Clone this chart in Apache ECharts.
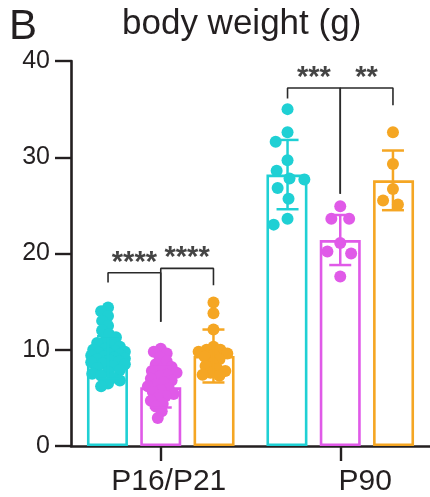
<!DOCTYPE html>
<html><head><meta charset="utf-8">
<script src="https://cdn.jsdelivr.net/npm/echarts@6/dist/echarts.min.js"></script>
<style>html,body{margin:0;padding:0;background:#fff}#c{width:430px;height:497px}</style>
</head><body><div id="c"></div>
<script>
// ---------- data ----------
const categories = ['P16/P21', 'P90'];
const yTicks = [0, 10, 20, 30, 40];

const meanCyan = [9.2, 28.2];
const sdCyan = [2.2, 3.6];
const meanMagenta = [6.1, 21.4];
const sdMagenta = [2.1, 2.6];
const meanOrange = [9.35, 27.6];
const sdOrange = [2.75, 3.1];

const ptsCyanP16 = [14.4, 14.0, 13.5, 13.0, 12.5, 12.0, 11.6, 11.3, 10.9, 10.7, 10.5, 10.3, 10.1, 10.0,
  9.9, 9.8, 9.7, 9.6, 9.5, 9.4, 9.3, 9.2, 9.1, 9.0, 8.9, 8.8, 8.7, 8.6, 8.5, 8.3, 8.1,
  7.9, 7.7, 7.5, 7.3, 7.1, 6.8, 6.5, 6.2];
const ptsCyanP90 = [35.0, 32.6, 31.6, 29.7, 28.6, 27.8, 27.7, 26.8, 25.7, 23.6, 23.0];
const ptsMagentaP16 = [10.1, 9.8, 9.6, 9.2, 8.8, 8.5, 8.2, 8.0, 7.8, 7.6, 7.4, 7.2, 7.0, 6.8, 6.6,
  6.4, 6.2, 6.0, 5.8, 5.6, 5.4, 5.2, 5.0, 4.7, 4.4, 4.1, 3.6, 2.9];
const ptsMagentaP90 = [24.9, 23.6, 23.6, 21.1, 20.2, 20.0, 17.6];
const ptsOrangeP16 = [14.9, 13.8, 12.1, 10.3, 10.0, 10.0, 9.8, 9.6, 9.5, 9.3, 9.0, 8.6, 8.3, 8.0, 7.8, 7.6, 7.4, 7.3];
const ptsOrangeP90 = [32.6, 29.3, 26.7, 25.5, 25.1];

// significance comparisons (group index, from bar, to bar, bracket level, drop levels, label)
const compGroup = [0, 0, 1, 1];
const compFrom = [0, 1, 0, 1];
const compTo = [1, 2, 1, 2];
const compTop = [18.0, 18.45, 37.2, 37.2];
const compDropFrom = [17.0, 12.9, 36.1, 26.2];
const compDropTo = [12.9, 16.7, 26.2, 35.4];
const compLabel = ['****', '****', '***', '**'];

// ---------- layout / style ----------
const W = 430, H = 497;
const G = { left: 71, right: -4, top: 61, bottom: 50 };
const gridW = W - G.left - G.right, gridH = H - G.top - G.bottom;
const pxPerX = gridW / 2;       // value x-axis 0..2
const pxPerY = gridH / 40;
const barW = 41, barGap = 0.3;
const barStep = barW * (1 + barGap) / pxPerX;   // offset between bars in x-units
const colors = ['#1fd0d4', '#e05ae8', '#f5a623'];
const FONT = 'Liberation Sans, Arial, Helvetica, sans-serif';
const INK = '#231f20';
const labelShift = [16, 50];   // left padding of x labels (label sits right of tick)

function barX(g, b) { return g + 0.5 + (b - 1) * barStep; }

// simple beeswarm layout (pixel space), returns x offsets in px
function swarm(vals, D, maxOff) {
  const order = vals.map((v, i) => i).sort((a, b) => vals[b] - vals[a]);
  const placed = []; const off = new Array(vals.length).fill(0);
  order.forEach(i => {
    const y = vals[i] * pxPerY;
    let best = 0, bestScore = -1;
    for (let k = 0; k <= maxOff * 2; k++) {
      const dx = (k % 2 ? -1 : 1) * Math.ceil(k / 2);
      let minD = Infinity;
      placed.forEach(p => { const d = Math.hypot(p[0] - dx, p[1] - y); if (d < minD) minD = d; });
      if (minD >= D) { best = dx; bestScore = Infinity; break; }
      if (minD > bestScore) { bestScore = minD; best = dx; }
    }
    off[i] = best; placed.push([best, y]);
  });
  return off;
}

function scatterData(g, b, vals, D) {
  const off = swarm(vals, D, 17);
  return vals.map((v, i) => [barX(g, b) + off[i] / pxPerX, v]);
}

const means = [meanCyan, meanMagenta, meanOrange];
const sds = [sdCyan, sdMagenta, sdOrange];
const pts = [[ptsCyanP16, ptsCyanP90], [ptsMagentaP16, ptsMagentaP90], [ptsOrangeP16, ptsOrangeP90]];

const series = [];
// bars
for (let b = 0; b < 3; b++) {
  series.push({
    type: 'bar', xAxisIndex: 0, yAxisIndex: 0, barWidth: barW, barGap: (barGap * 100) + '%',
    data: means[b], z: 1, silent: true, animation: false,
    itemStyle: { color: '#ffffff', borderColor: colors[b], borderWidth: 2.6 }
  });
}
// points
for (let b = 0; b < 3; b++) {
  const data = [].concat(scatterData(0, b, pts[b][0], 7.5), scatterData(1, b, pts[b][1], 15));
  series.push({
    type: 'scatter', xAxisIndex: 1, yAxisIndex: 0, data, symbolSize: 12, z: 3,
    itemStyle: { color: colors[b], opacity: 1 }, silent: true, animation: false
  });
}
// error bars
for (let b = 0; b < 3; b++) {
  const data = means[b].map((m, g) => [barX(g, b), m, sds[b][g]]);
  series.push({
    type: 'custom', xAxisIndex: 1, yAxisIndex: 0, data, z: 4, silent: true, animation: false,
    renderItem(params, api) {
      const x = api.value(0), m = api.value(1), s = api.value(2);
      const t = api.coord([x, m + s]), d = api.coord([x, m - s]);
      const hw = 11, st = { stroke: colors[b], lineWidth: 2.5 };
      return { type: 'group', children: [
        { type: 'line', shape: { x1: t[0], y1: t[1], x2: d[0], y2: d[1] }, style: st },
        { type: 'line', shape: { x1: t[0] - hw, y1: t[1], x2: t[0] + hw, y2: t[1] }, style: st },
        { type: 'line', shape: { x1: d[0] - hw, y1: d[1], x2: d[0] + hw, y2: d[1] }, style: st }
      ] };
    }
  });
}
// brackets and stars
compLabel.forEach((lab, i) => {
  const g = compGroup[i];
  const x1 = barX(g, compFrom[i]), x2 = barX(g, compTo[i]);
  series.push({
    type: 'line', xAxisIndex: 1, yAxisIndex: 0, z: 5, silent: true, animation: false,
    symbol: 'none', lineStyle: { color: '#2a2a2a', width: 1.6 },
    data: [[x1, compDropFrom[i]], [x1, compTop[i]], [x2, compTop[i]], [x2, compDropTo[i]]]
  });
  series.push({
    type: 'scatter', xAxisIndex: 1, yAxisIndex: 0, z: 6, silent: true, animation: false,
    symbolSize: 1, itemStyle: { color: 'rgba(0,0,0,0)' },
    data: [[(x1 + x2) / 2, compTop[i]]],
    label: { show: true, position: 'top', distance: -5, formatter: lab, fontFamily: FONT,
      fontSize: 29, fontWeight: 'bold', color: '#151515' }
  });
});

const chart = echarts.init(document.getElementById('c'), null, { renderer: 'canvas' });
chart.setOption({
  animation: false,
  backgroundColor: '#ffffff',
  title: [
    { text: 'B', left: 4, top: 1, textStyle: { fontFamily: FONT, fontSize: 42, fontWeight: 'normal', color: INK } },
    { text: 'body weight (g)', left: 117, top: 2, textStyle: { fontFamily: FONT, fontSize: 35, fontWeight: 'normal', color: INK } }
  ],
  grid: G,
  xAxis: [
    { type: 'category', data: categories, boundaryGap: true,
      axisLine: { lineStyle: { color: INK, width: 2.6 } },
      axisTick: { show: true, interval: 0, alignWithLabel: true, length: 15, lineStyle: { width: 2.4, color: INK } },
      axisLabel: { fontFamily: FONT, fontSize: 30, color: INK, margin: 21, interval: 0,
        showMinLabel: true, showMaxLabel: true, hideOverlap: false,
        formatter: (v, i) => '{p' + i + '|' + v + '}',
        rich: {
          p0: { fontFamily: FONT, fontSize: 30, color: INK, padding: [0, 0, 0, labelShift[0]] },
          p1: { fontFamily: FONT, fontSize: 30, color: INK, padding: [0, 0, 0, labelShift[1]] }
        } } },
    { type: 'value', min: 0, max: 2, show: false }
  ],
  yAxis: [{
    type: 'value', min: yTicks[0], max: yTicks[yTicks.length - 1], interval: 10,
    splitLine: { show: false },
    axisLine: { show: true, lineStyle: { color: INK, width: 2.6 } },
    axisTick: { show: true, length: 16, lineStyle: { width: 2.4, color: INK } },
    axisLabel: { fontFamily: FONT, fontSize: 25, color: INK, margin: 21 }
  }],
  series
});
</script></body></html>
